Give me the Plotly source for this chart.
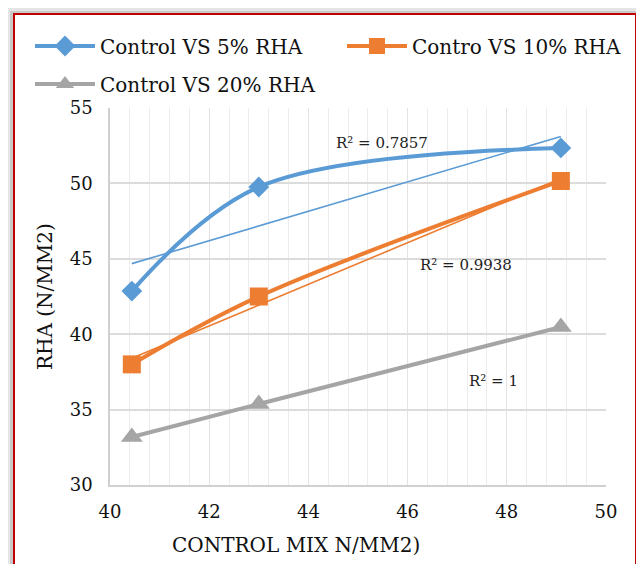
import numpy as np
import plotly.graph_objects as go

# ---- data ----
control_mix = [40.44, 43.0, 49.09]
rha_5 = [42.86, 49.76, 52.35]
rha_10 = [38.0, 42.5, 50.16]
rha_20 = [33.18, 35.37, 40.48]
series_names = ["Control VS 5% RHA", "Contro VS 10% RHA", "Control VS 20% RHA"]
r2_labels = ["R² = 0.7857", "R² = 0.9938", "R² = 1"]
r2_label_x = [45.48, 47.18, 47.74]
r2_label_y = [52.7, 44.6, 36.9]

colors = ["#5B9BD5", "#ED7D31", "#A5A5A5"]
symbols = ["diamond", "square", "triangle-up"]
msizes = [16, 18, 19]
legends = ["legend", "legend2", "legend3"]
FONT = "DejaVu Serif"
TXT = "#111111"

fig = go.Figure()
for ys, name, c, s, ms, lg in zip([rha_5, rha_10, rha_20], series_names, colors, symbols, msizes, legends):
    # linear trendline computed from the data
    k, b = np.polyfit(control_mix, ys, 1)
    xt = np.array([min(control_mix), max(control_mix)])
    fig.add_trace(go.Scatter(x=xt, y=k * xt + b, mode="lines",
                             line=dict(color=c, width=1.6), showlegend=False,
                             hoverinfo="skip"))
    fig.add_trace(go.Scatter(x=control_mix, y=ys, mode="lines+markers", name=name,
                             line=dict(color=c, width=4, shape="spline", smoothing=1),
                             marker=dict(symbol=s, size=ms, color=c),
                             legend=lg))

for t, x, y in zip(r2_labels, r2_label_x, r2_label_y):
    fig.add_annotation(x=x, y=y, text=t, showarrow=False,
                       font=dict(family=FONT, size=15, color="#222222"))

# page body adds an 8px offset, so the figure is 8px smaller than the window
W, H = 636, 556
L, R, T, B = 102, 38, 100, 79
pw, ph = W - L - R, H - T - B


def px_x(p):
    return (p - L) / pw


def px_y(p):
    return (H - B - p) / ph


def cx(p):
    return p / W


def cy(p):
    return 1 - p / H


# axis titles
fig.add_annotation(xref="paper", yref="paper", x=px_x(288), y=px_y(537),
                   xanchor="center", yanchor="middle",
                   text="CONTROL MIX N/MM2)", showarrow=False,
                   font=dict(family=FONT, size=20, color=TXT))
fig.add_annotation(xref="paper", yref="paper", x=px_x(37), y=px_y(289),
                   xanchor="center", yanchor="middle",
                   text="RHA (N/MM2)", textangle=-90, showarrow=False,
                   font=dict(family=FONT, size=20, color=TXT))

# shadow + frame
fig.add_shape(type="rect", xref="paper", yref="paper",
              x0=px_x(-4), x1=px_x(640), y0=px_y(600), y1=px_y(0),
              fillcolor="rgba(0,0,0,0.10)", line=dict(width=0), layer="below")
fig.add_shape(type="rect", xref="paper", yref="paper",
              x0=px_x(2), x1=px_x(640), y0=px_y(600), y1=px_y(3),
              fillcolor="rgba(0,0,0,0.12)", line=dict(width=0), layer="below")
fig.add_shape(type="rect", xref="paper", yref="paper",
              x0=px_x(6), x1=px_x(628), y0=px_y(600), y1=px_y(6),
              fillcolor="white", line=dict(color="#C00000", width=2), layer="below")

leg_common = dict(orientation="h", bgcolor="rgba(0,0,0,0)", itemwidth=60,
                  font=dict(family=FONT, size=20, color=TXT),
                  xref="container", yref="container",
                  yanchor="middle", xanchor="left")

fig.update_layout(
    width=W, height=H,
    margin=dict(l=L, r=R, t=T, b=B, autoexpand=False),
    paper_bgcolor="white",
    plot_bgcolor="rgba(0,0,0,0)",
    legend=dict(x=cx(22), y=cy(38), **leg_common),
    legend2=dict(x=cx(334), y=cy(38), **leg_common),
    legend3=dict(x=cx(22), y=cy(76), **leg_common),
    xaxis=dict(range=[40, 50], dtick=2, showgrid=True, gridcolor="#e3e3e3", gridwidth=1,
               minor=dict(dtick=0.4, showgrid=True, gridcolor="#ececec"),
               showline=True, linecolor="#d0d0d0", linewidth=1.5, zeroline=False,
               tickfont=dict(family=FONT, size=18, color=TXT),
               ticklabelstandoff=10),
    yaxis=dict(range=[30, 55], dtick=5, showgrid=True, gridcolor="#dcdcdc", gridwidth=1.5,
               showline=True, linecolor="#d0d0d0", linewidth=1.5, zeroline=False,
               tickfont=dict(family=FONT, size=18, color=TXT),
               ticklabelstandoff=12),
)

fig.write_html("out.html")
